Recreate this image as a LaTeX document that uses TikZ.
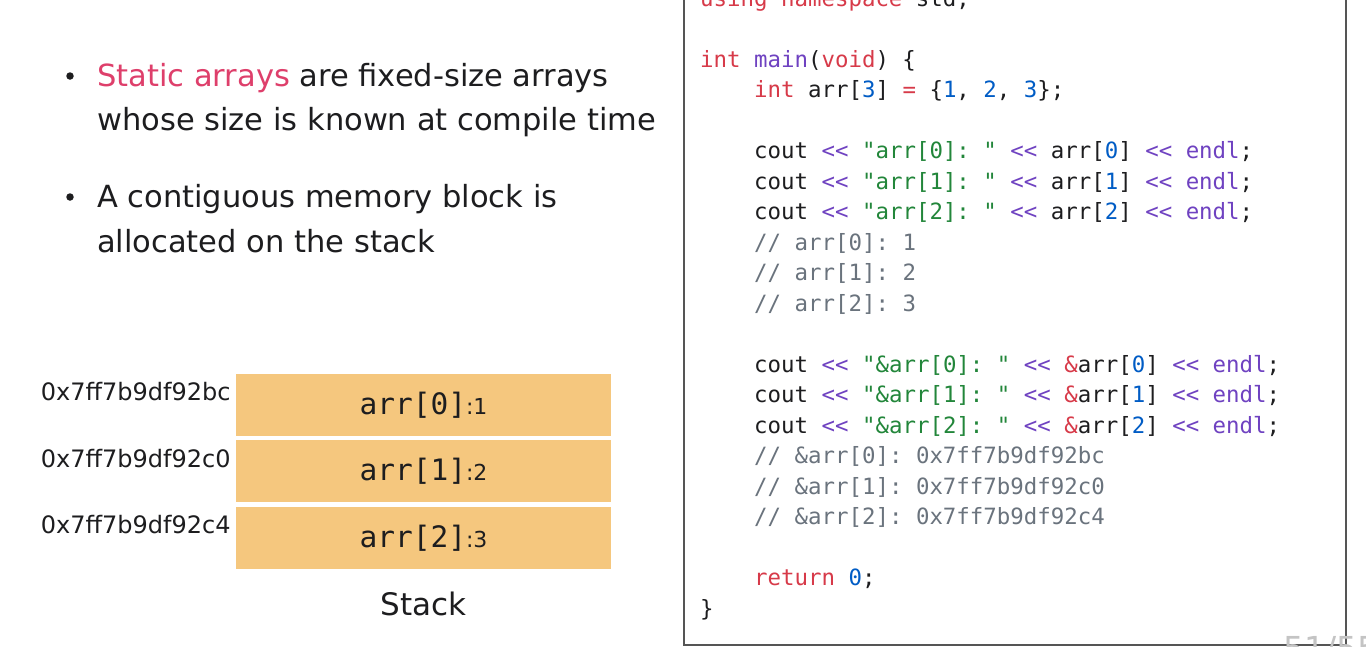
\documentclass[tikz,border=0pt]{standalone}
\usepackage{fontspec}
\setmainfont{DejaVu Sans}
\setmonofont{DejaVu Sans Mono}
\usetikzlibrary{positioning}

\definecolor{slidetext}{HTML}{1D1D1F}
\definecolor{accent}{HTML}{DE3F6B}
\definecolor{cellfill}{HTML}{F5C77E}
\definecolor{codekw}{HTML}{D73A49}
\definecolor{codefn}{HTML}{6F42C1}
\definecolor{codenum}{HTML}{005CC5}
\definecolor{codestr}{HTML}{22863A}
\definecolor{codecmt}{HTML}{6A737D}
\definecolor{framegray}{HTML}{555555}
\definecolor{pagegray}{HTML}{C4C4C4}

\newcommand{\ckw}[1]{\textcolor{codekw}{#1}}
\newcommand{\cfn}[1]{\textcolor{codefn}{#1}}
\newcommand{\cnum}[1]{\textcolor{codenum}{#1}}
\newcommand{\cstr}[1]{\textcolor{codestr}{#1}}
\newcommand{\ccmt}[1]{\textcolor{codecmt}{#1}}

\tikzset{
    bulletline/.style={anchor=base west, inner sep=0pt, text=slidetext, font=\fontsize{30.5}{36}\selectfont},
    bulletdot/.style={circle, fill=slidetext, inner sep=0pt, minimum size=7.5pt},
    cell/.style={fill=cellfill, minimum width=375pt, minimum height=62pt, inner sep=0pt, text=slidetext},
    addr/.style={anchor=east, inner sep=0pt, text=slidetext, font=\fontsize{24}{27}\selectfont},
    code/.style={anchor=base west, inner sep=0pt, text=slidetext, font=\ttfamily\fontsize{22.4}{26}\selectfont}
}

\newcommand{\cellval}[2]{{\ttfamily\fontsize{29.5}{30}\selectfont arr[#1]}{\fontsize{22}{24}\selectfont :#2}}

\begin{document}
\begin{tikzpicture}[x=1pt, y=-1pt]

    \useasboundingbox (0,0) rectangle (1366,646);
    \clip (0,0) rectangle (1366,646);

    % Bullet points
    \node[bulletdot] (dot1) at (70, 76) {};
    \node[bulletline] (b1a) at (97, 86) {\textcolor{accent}{Static arrays} are fixed-size arrays};
    \node[bulletline] (b1b) at (97, 130) {whose size is known at compile time};

    \node[bulletdot] (dot2) at (70, 197) {};
    \node[bulletline] (b2a) at (97, 207) {A contiguous memory block is};
    \node[bulletline] (b2b) at (97, 252) {allocated on the stack};

    % Stack cells
    \node[cell] (cell0) at (423.5, 405) {\cellval{0}{1}};
    \node[cell, below=4pt of cell0] (cell1) {\cellval{1}{2}};
    \node[cell, below=4pt of cell1] (cell2) {\cellval{2}{3}};
    \node[below=19pt of cell2, text=slidetext, font=\fontsize{31}{36}\selectfont] (stack) {Stack};

    % Addresses
    \node[addr] (addr0) at ([xshift=-5pt, yshift=13pt]cell0.west) {0x7ff7b9df92bc};
    \node[addr] (addr1) at ([xshift=-5pt, yshift=13pt]cell1.west) {0x7ff7b9df92c0};
    \node[addr] (addr2) at ([xshift=-5pt, yshift=13pt]cell2.west) {0x7ff7b9df92c4};

    % Code frame
    \draw[framegray, line width=1.6pt, fill=white] (684, -20) rectangle (1346, 645);

    % Page number
    \node[anchor=north west, inner sep=0pt, text=pagegray, font=\fontsize{33}{36}\selectfont] (page) at (1283, 636) {51/55};

    % Code listing
    \node[code] (c0) at (700, 6) {\ckw{using namespace} std;};
    \node[code] (c2) at (700, 67) {\ckw{int} \cfn{main}(\ckw{void}) \{};
    \node[code] (c3) at (754, 97.5) {\ckw{int} arr[\cnum{3}] \ckw{=} \{\cnum{1}, \cnum{2}, \cnum{3}\};};

    \node[code] (c5) at (754, 158.5) {cout \cfn{<<} \cstr{"arr[0]: "} \cfn{<<} arr[\cnum{0}] \cfn{<<} \cfn{endl};};
    \node[code] (c6) at (754, 189) {cout \cfn{<<} \cstr{"arr[1]: "} \cfn{<<} arr[\cnum{1}] \cfn{<<} \cfn{endl};};
    \node[code] (c7) at (754, 219.5) {cout \cfn{<<} \cstr{"arr[2]: "} \cfn{<<} arr[\cnum{2}] \cfn{<<} \cfn{endl};};
    \node[code] (c8) at (754, 250) {\ccmt{// arr[0]: 1}};
    \node[code] (c9) at (754, 280.5) {\ccmt{// arr[1]: 2}};
    \node[code] (c10) at (754, 311) {\ccmt{// arr[2]: 3}};

    \node[code] (c12) at (754, 372) {cout \cfn{<<} \cstr{"\&arr[0]: "} \cfn{<<} \ckw{\&}arr[\cnum{0}] \cfn{<<} \cfn{endl};};
    \node[code] (c13) at (754, 402.5) {cout \cfn{<<} \cstr{"\&arr[1]: "} \cfn{<<} \ckw{\&}arr[\cnum{1}] \cfn{<<} \cfn{endl};};
    \node[code] (c14) at (754, 433) {cout \cfn{<<} \cstr{"\&arr[2]: "} \cfn{<<} \ckw{\&}arr[\cnum{2}] \cfn{<<} \cfn{endl};};
    \node[code] (c15) at (754, 463.5) {\ccmt{// \&arr[0]: 0x7ff7b9df92bc}};
    \node[code] (c16) at (754, 494) {\ccmt{// \&arr[1]: 0x7ff7b9df92c0}};
    \node[code] (c17) at (754, 524.5) {\ccmt{// \&arr[2]: 0x7ff7b9df92c4}};

    \node[code] (c19) at (754, 585.5) {\ckw{return} \cnum{0};};
    \node[code] (c20) at (700, 616) {\}};

\end{tikzpicture}
\end{document}
